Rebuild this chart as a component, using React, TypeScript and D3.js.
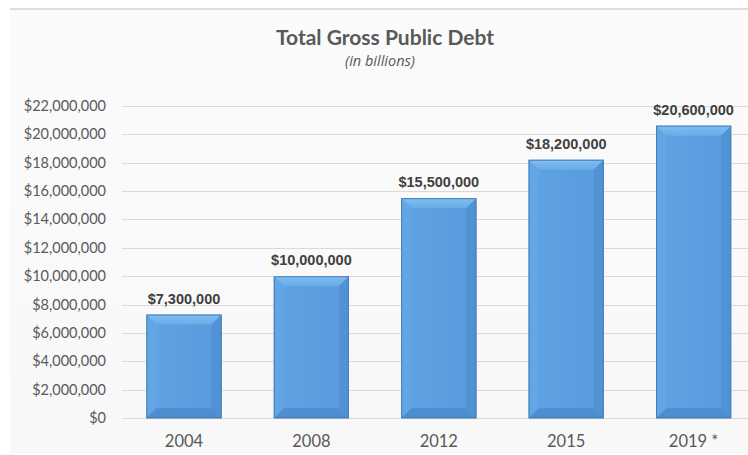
import React from "react";
import * as d3 from "d3";

const categories = ["2004", "2008", "2012", "2015", "2019 *"];
const values = [7300000, 10000000, 15500000, 18200000, 20600000];
const yTicks = [0, 2000000, 4000000, 6000000, 8000000, 10000000, 12000000, 14000000, 16000000, 18000000, 20000000, 22000000];

const W = 748;
const H = 455;

export default function App() {
  const x = d3.scaleBand<string>().domain(categories).range([120.3, 757.3]).paddingInner(0.41).paddingOuter(0.205);
  const y = d3.scaleLinear().domain([0, 22000000]).range([418.3, 105.8]);
  const fmt = (v: number) => "$" + d3.format(",")(v);
  const bw = x.bandwidth();
  const b = 10;
  const font = "Lato, 'Open Sans', sans-serif";

  return (
    <svg width={W} height={H} style={{ position: "absolute", left: 0, top: 0, background: "#fff" }}>
      <defs>
        <linearGradient id="panel" x1="0" y1="0" x2="0" y2="1">
          <stop offset="0" stopColor="#fbfbfb" />
          <stop offset="1" stopColor="#f8f8f8" />
        </linearGradient>
        <linearGradient id="face" x1="0" y1="0" x2="1" y2="0">
          <stop offset="0" stopColor="#60a3e3" />
          <stop offset="1" stopColor="#589bdc" />
        </linearGradient>
        <linearGradient id="topb" x1="0" y1="0" x2="0" y2="1">
          <stop offset="0" stopColor="#82bff2" />
          <stop offset="1" stopColor="#68abe8" />
        </linearGradient>
        <clipPath id="clip"><rect x={0} y={0} width={W} height={H} /></clipPath>
      </defs>
      <rect x={10} y={10} width={W - 10} height={443} fill="url(#panel)" />
      <line x1={10} x2={W} y1={9} y2={9} stroke="#dedede" strokeWidth={2} />
      <text x={385} y={45} textAnchor="middle" fontFamily={font} fontWeight={700} fontSize={21} fill="#595959">
        Total Gross Public Debt
      </text>
      <text x={380} y={66} textAnchor="middle" fontFamily="'Open Sans', sans-serif" fontStyle="italic" fontSize={14.5} fill="#595959">
        (in billions)
      </text>
      {yTicks.map((t) => (
        <g key={t}>
          <line x1={122} x2={W} y1={Math.round(y(t)) + 0.5} y2={Math.round(y(t)) + 0.5} stroke="#dadada" strokeWidth={1} />
          <text x={106} y={y(t) + 5} textAnchor="end" fontFamily={font} fontSize={14.5} fill="#595959">
            {fmt(t)}
          </text>
        </g>
      ))}
      <g clipPath="url(#clip)">
        {categories.map((c, i) => {
          const x0 = x(c)!;
          const x1 = x0 + bw;
          const y0 = y(values[i]);
          const y1 = y(0);
          const top = `${x0},${y0} ${x1},${y0} ${x1 - b},${y0 + b} ${x0 + b},${y0 + b}`;
          const left = `${x0},${y0} ${x0 + b},${y0 + b} ${x0 + b},${y1 - b} ${x0},${y1}`;
          const right = `${x1},${y0} ${x1},${y1} ${x1 - b},${y1 - b} ${x1 - b},${y0 + b}`;
          const bottom = `${x0},${y1} ${x0 + b},${y1 - b} ${x1 - b},${y1 - b} ${x1},${y1}`;
          return (
            <g key={c}>
              <rect x={x0} y={y0} width={bw} height={y1 - y0} fill="url(#face)" />
              <polygon points={top} fill="url(#topb)" />
              <polygon points={left} fill="#63a6e5" />
              <polygon points={right} fill="#5092d4" />
              <polygon points={bottom} fill="#4e8ed0" />
              <rect x={x0 + 0.5} y={y0 + 0.5} width={bw - 1} height={y1 - y0 - 1} fill="none" stroke="#4a7fb3" strokeWidth={1} />
              <text x={x0 + bw / 2} y={y0 - 11} textAnchor="middle" fontFamily="'Liberation Sans', Arial, sans-serif" fontWeight={700} fontSize={14.5} fill="#404040">
                {fmt(values[i])}
              </text>
            </g>
          );
        })}
      </g>
      {categories.map((c) => (
        <text key={c} x={x(c)! + bw / 2} y={447} textAnchor="middle" fontFamily={font} fontSize={16.5} fill="#595959">
          {c}
        </text>
      ))}
    </svg>
  );
}
